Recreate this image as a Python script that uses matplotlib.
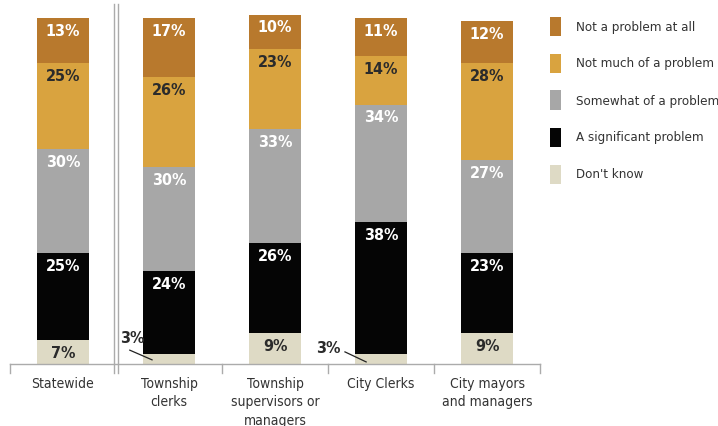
"""
Stacked bar chart: how much of a problem, by respondent group
"""

import numpy as np
import matplotlib.pyplot as plt
from matplotlib.patches import Rectangle

plt.rcParams['font.family'] = ['DejaVu Sans']
plt.rcParams['font.stretch'] = 'condensed'

# Data (percent), bottom to top
groups = ['Statewide', 'Township\nclerks', 'Township\nsupervisors or\nmanagers',
          'City Clerks', 'City mayors\nand managers']
dont_know = [7, 3, 9, 3, 9]
significant = [25, 24, 26, 38, 23]
somewhat = [30, 30, 33, 34, 27]
not_much = [25, 26, 23, 14, 28]
not_at_all = [13, 17, 10, 11, 12]

series = [
    ("Don't know", dont_know, '#DEDAC5', '#2b2b2b'),
    ('A significant problem', significant, '#050505', 'white'),
    ('Somewhat of a problem', somewhat, '#A7A7A7', 'white'),
    ('Not much of a problem', not_much, '#D9A33F', '#2b2b2b'),
    ('Not a problem at all', not_at_all, '#B8792D', 'white'),
]

W, H = 718, 427
fig = plt.figure(figsize=(W / 100, H / 100), dpi=100)
# axes: x from -0.5..4.5 -> px 10..540, y 0..100 -> px 365..19
ax = fig.add_axes([10 / W, (H - 365) / H, 530 / W, 346 / H])
ax.set_xlim(-0.5, 4.5)
ax.set_ylim(0, 100)
ax.axis('off')

x = np.arange(len(groups))
bottom = np.zeros(len(groups))
for name, vals, color, tcolor in series:
    vals = np.array(vals, dtype=float)
    ax.bar(x, vals, bottom=bottom, width=0.49, color=color, linewidth=0, clip_on=False)
    for xi, b, v in zip(x, bottom, vals):
        if v >= 5:
            ax.text(xi, b + v - 3.6, f'{int(v)}%', ha='center', va='center',
                    color=tcolor, fontsize=11.5, fontweight='bold', clip_on=False)
        else:
            # small segment: label outside with leader line
            if xi == 1:
                tx, ty, l0, l1 = xi - 0.35, 7.6, (xi - 0.37, 4.0), (xi - 0.16, 1.2)
            else:
                tx, ty, l0, l1 = xi - 0.5, 4.9, (xi - 0.34, 3.5), (xi - 0.14, 0.6)
            ax.text(tx, ty, f'{int(v)}%', ha='center', va='center',
                    color='#2b2b2b', fontsize=11.5, fontweight='bold', clip_on=False)
            ax.plot([l0[0], l1[0]], [l0[1], l1[1]], color='#222222', lw=0.9, clip_on=False)
    bottom += vals

# baseline, ticks and separator
grey = '#ABABAB'
ax.plot([-0.5, 4.5], [0, 0], color=grey, lw=1, clip_on=False)
for b in [-0.5, 1.5, 2.5, 3.5, 4.5]:
    ax.plot([b, b], [0, -2.6], color=grey, lw=1, clip_on=False)
for b in [0.478, 0.52]:
    ax.plot([b, b], [-2.6, 104], color=grey, lw=1, clip_on=False)

# category labels
for xi, g in zip(x, groups):
    ax.text(xi, -3.4, g, ha='center', va='top', fontsize=10, color='#333333',
            linespacing=1.4, clip_on=False)

# legend (top to bottom)
for i, (name, vals, color, tcolor) in enumerate(reversed(series)):
    yc = 27 + 37 * i
    fig.patches.append(Rectangle((550 / W, (H - yc - 9.5) / H), 11 / W, 19 / H,
                                 transform=fig.transFigure, color=color, linewidth=0))
    fig.text(576 / W, (H - yc) / H, name, ha='left', va='center', fontsize=9.5,
             color='#333333')

plt.savefig('out.png', dpi=100)
